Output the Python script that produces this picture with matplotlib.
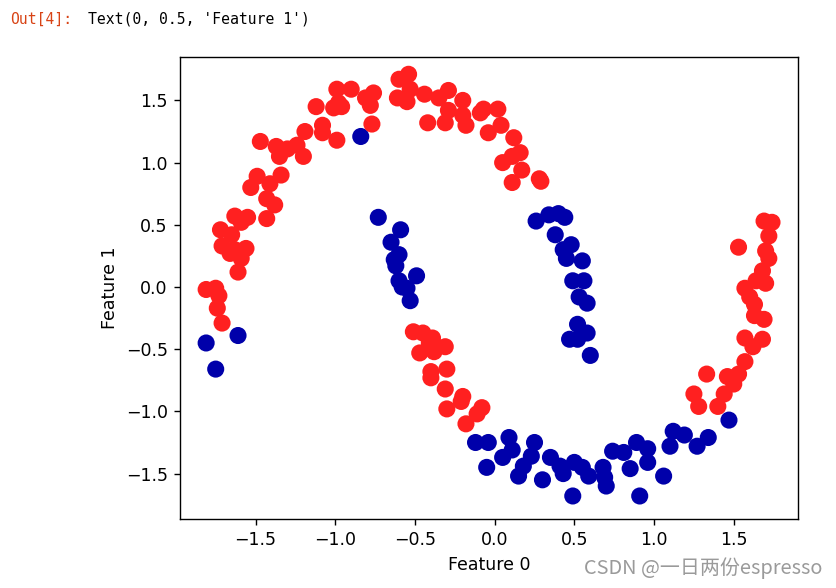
import matplotlib
matplotlib.use('Agg')
from matplotlib import pyplot as plt
from matplotlib.colors import ListedColormap
import numpy as np

# cluster 1 (red) points
red_x = [-0.99, -0.90, -0.76, -0.81, -0.78, -1.12, -0.98, -1.01, -0.96, -0.77,
         -1.08, -1.08, -0.99, -1.19, -1.47, -1.37, -1.30, -1.24, -1.35, -1.20,
         -1.49, -1.34, -1.53, -1.41, -1.43, -1.38, -1.63, -1.55, -1.43, -1.59,
         -1.72, -1.65, -1.71, -1.66, -1.63, -1.56, -1.59, -1.61, -1.81, -1.75,
         -1.73, -1.74, -1.71,
         -0.60, -0.54, -0.53, -0.61, -0.55, -0.44, -0.35, -0.29, -0.20, -0.29,
         -0.42, -0.31, -0.20, -0.18, -0.09, -0.07, 0.02, 0.04, -0.04, 0.12,
         0.16, 0.11, 0.05, 0.17, 0.11, 0.29, 0.28,
         -0.51, -0.45, -0.39, -0.41, -0.31, -0.47, -0.38, -0.30, -0.40, -0.40,
         -0.31, -0.20, -0.21, -0.08, -0.11, -0.30, -0.18,
         1.69, 1.74, 1.72, 1.53, 1.70, 1.72, 1.68, 1.64, 1.70, 1.57,
         1.60, 1.63, 1.63, 1.69, 1.57, 1.68, 1.62, 1.57, 1.33, 1.46,
         1.53, 1.50, 1.44, 1.25, 1.28, 1.40]
red_y = [1.59, 1.59, 1.56, 1.52, 1.46, 1.45, 1.48, 1.44, 1.45, 1.31,
         1.30, 1.24, 1.18, 1.25, 1.17, 1.13, 1.11, 1.14, 1.05, 1.05,
         0.89, 0.90, 0.80, 0.83, 0.71, 0.66, 0.57, 0.56, 0.55, 0.52,
         0.46, 0.42, 0.33, 0.27, 0.30, 0.31, 0.23, 0.12, -0.02, -0.01,
         -0.07, -0.17, -0.29,
         1.67, 1.71, 1.59, 1.52, 1.49, 1.55, 1.52, 1.58, 1.50, 1.42,
         1.32, 1.32, 1.38, 1.30, 1.40, 1.43, 1.43, 1.30, 1.24, 1.20,
         1.08, 1.05, 1.00, 0.94, 0.84, 0.85, 0.87,
         -0.36, -0.37, -0.41, -0.45, -0.48, -0.53, -0.52, -0.66, -0.68, -0.73,
         -0.82, -0.88, -0.92, -0.97, -1.02, -0.98, -1.10,
         0.53, 0.52, 0.41, 0.32, 0.29, 0.23, 0.13, 0.05, 0.03, -0.01,
         -0.08, -0.14, -0.23, -0.26, -0.41, -0.42, -0.48, -0.60, -0.70, -0.72,
         -0.70, -0.78, -0.86, -0.86, -0.96, -0.96]

# cluster 0 (blue) points
blue_x = [-0.84, -1.61, -1.81, -1.75,
          -0.73, -0.59, -0.65, -0.60, -0.63, -0.62, -0.49, -0.60, -0.58, -0.55,
          -0.53,
          0.26, 0.34, 0.40, 0.44, 0.38, 0.48, 0.43, 0.45, 0.55, 0.49,
          0.56, 0.53, 0.58, 0.52, 0.58, 0.47, 0.52, 0.60,
          -0.12, -0.04, 0.09, 0.11, 0.05, 0.25, 0.23, 0.18, 0.15, -0.05,
          0.30, 0.35, 0.41, 0.43, 0.50, 0.55, 0.49, 0.59, 0.68, 0.69,
          0.70, 0.74, 0.81, 0.89, 0.96, 0.96, 0.85, 0.91, 1.06, 1.12,
          1.19, 1.10, 1.27, 1.34, 1.47]
blue_y = [1.21, -0.39, -0.45, -0.66,
          0.56, 0.46, 0.36, 0.26, 0.22, 0.17, 0.09, 0.05, 0.00, -0.01,
          -0.11,
          0.53, 0.58, 0.59, 0.56, 0.42, 0.34, 0.30, 0.23, 0.21, 0.05,
          0.05, -0.08, -0.13, -0.30, -0.37, -0.42, -0.42, -0.55,
          -1.25, -1.25, -1.21, -1.31, -1.37, -1.25, -1.36, -1.44, -1.52, -1.45,
          -1.55, -1.37, -1.44, -1.50, -1.41, -1.45, -1.68, -1.52, -1.45, -1.53,
          -1.60, -1.32, -1.33, -1.25, -1.30, -1.41, -1.46, -1.68, -1.52, -1.16,
          -1.19, -1.28, -1.28, -1.21, -1.07]

X = np.array(list(zip(blue_x + red_x, blue_y + red_y)))
clusters = np.array([0] * len(blue_x) + [1] * len(red_x))

cm2 = ListedColormap(['#0000aa', '#ff2020'])

fig = plt.figure(figsize=(836 / 125, 588 / 125), dpi=125)
ax = fig.add_axes([180 / 836, 1 - 519 / 588, 618 / 836, 462 / 588])

ax.scatter(X[:, 0], X[:, 1], c=clusters, cmap=cm2, s=78)
ax.set_xlim(-1.974, 1.903)
ax.set_ylim(-1.865, 1.849)
ax.set_xlabel('Feature 0')
ax.set_ylabel('Feature 1')

# notebook output line above the figure
fig.text(10 / 836, 1 - 19 / 588, 'Out[4]:', color='#d84315',
         family='DejaVu Sans Mono', fontsize=8.5, va='center')
fig.text(88 / 836, 1 - 19 / 588, "Text(0, 0.5, 'Feature 1')", color='black',
         family='DejaVu Sans Mono', fontsize=8.5, va='center')

# watermark
fig.text(822 / 836, 1 - 568 / 588, 'CSDN @一日两份espresso', color='#9a9a9a',
         family=['Noto Sans CJK SC', 'DejaVu Sans'], fontsize=11.5,
         ha='right', va='center')

fig.savefig('out.png', dpi=125)
